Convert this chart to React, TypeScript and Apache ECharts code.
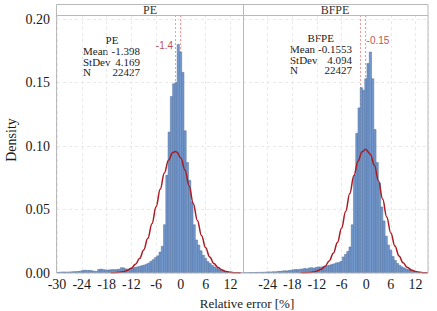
import { useEffect, useRef } from "react";
import * as echarts from "echarts";

// ---- data ----
const BIN_START = -30.05;
const BIN_WIDTH = 0.55;

const peDensity = [
  0.0005, 0.0006, 0.0008, 0.0008, 0.0007, 0.0008, 0.0009, 0.001, 0.0011, 0.0012,
  0.0015, 0.002, 0.0022, 0.002, 0.0021, 0.0018, 0.0014, 0.0013, 0.0028, 0.003,
  0.0027, 0.0024, 0.0023, 0.0025, 0.0027, 0.0026, 0.0028, 0.003, 0.0042, 0.004,
  0.0032, 0.0031, 0.0036, 0.0039, 0.0045, 0.0048, 0.0052, 0.0058, 0.0062, 0.007,
  0.0078, 0.0092, 0.0105, 0.0122, 0.0135, 0.0165, 0.021, 0.038, 0.077, 0.111,
  0.139, 0.149, 0.15, 0.18, 0.174, 0.158, 0.112, 0.087, 0.073, 0.056,
  0.038, 0.026, 0.022, 0.0175, 0.014, 0.0115, 0.009, 0.0075, 0.006, 0.0048,
  0.0038, 0.003, 0.0023, 0.0017, 0.0012, 0.0009, 0.0006, 0.0004, 0.0003, 0.0002,
  0.0001, 0.0001,
];

const bfpeDensity = [
  0.0002, 0.0002, 0.0003, 0.0003, 0.0004, 0.0004, 0.0005, 0.0005, 0.0006, 0.0006,
  0.0008, 0.0009, 0.0008, 0.001, 0.0009, 0.0012, 0.0013, 0.0015, 0.0018, 0.0016,
  0.002, 0.0022, 0.0025, 0.0028, 0.0026, 0.003, 0.0032, 0.0036, 0.0033, 0.004,
  0.0042, 0.0038, 0.0044, 0.0048, 0.0046, 0.005, 0.0054, 0.0058, 0.0062, 0.0068,
  0.0072, 0.008, 0.0082, 0.0092, 0.0126, 0.0147, 0.017, 0.0205, 0.038, 0.077,
  0.11, 0.13, 0.146, 0.144, 0.153, 0.165, 0.174, 0.153, 0.113, 0.087,
  0.071, 0.052, 0.041, 0.029, 0.022, 0.018, 0.013, 0.01, 0.0075, 0.006,
  0.0048, 0.004, 0.0032, 0.0026, 0.002, 0.0015, 0.0011, 0.0008, 0.0005, 0.0003,
  0.0002, 0.0001,
];

const peCurveX = [-17, -16, -15, -14, -13, -12, -11, -10, -9, -8, -7, -6, -5, -4, -3, -2, -1.4, -1, 0, 1, 2, 3, 4, 5, 6, 7, 8, 9, 10, 11, 12, 13, 14, 14.5];
const peCurveY = [0.0001, 0.0002, 0.0005, 0.001, 0.002, 0.0038, 0.0068, 0.0114, 0.0182, 0.0273, 0.0388, 0.0521, 0.0659, 0.0788, 0.0889, 0.0947, 0.0957, 0.0953, 0.0905, 0.0811, 0.0686, 0.0548, 0.0414, 0.0295, 0.0198, 0.0126, 0.0075, 0.0043, 0.0023, 0.0011, 0.0005, 0.0002, 0.0001, 0.0001];

const bfpeCurveX = [-16, -15, -14, -13, -12, -11, -10, -9, -8, -7, -6, -5, -4, -3, -2, -1, -0.15, 1, 2, 3, 4, 5, 6, 7, 8, 9, 10, 11, 12, 13, 14, 15];
const bfpeCurveY = [0.0001, 0.0001, 0.0003, 0.0007, 0.0015, 0.0029, 0.0054, 0.0095, 0.0156, 0.0241, 0.0352, 0.0484, 0.0627, 0.0766, 0.0881, 0.0954, 0.0974, 0.0936, 0.0848, 0.0724, 0.0582, 0.0441, 0.0315, 0.0212, 0.0134, 0.008, 0.0045, 0.0024, 0.0012, 0.0006, 0.0002, 0.0001];

const panelNames = ["PE", "BFPE"];
const statLabels = ["Mean", "StDev", "N"];
const peStats = ["-1.398", "4.169", "22427"];
const bfpeStats = ["-0.1553", "4.094", "22427"];
const refLines = [-1.4, -0.15];
const refLabels = ["-1.4", "-0.15"];
const refLabelY = [0.1795, 0.1834];
const xTickMin = -30;
const xTickStep = 6;
const yTickStep = 0.05;
const xLabel = "Relative error [%]";
const yLabel = "Density";

// ---- styles ----
const SERIF = "'Liberation Serif', 'Times New Roman', serif";
const SANS = "'Liberation Sans', Arial, sans-serif";
const BAR_FILL = "#7398cb";
const BAR_STROKE = "#4f6f9e";
const CURVE = "#a81c24";
const REF = "#f07d7d";
const GRIDC = "#e3e3e3";
const BORDER = "#b9b9b9";

export default function App() {
  const ref = useRef<HTMLDivElement>(null);
  useEffect(() => {
    document.body.style.margin = "0";
    const chart = echarts.init(ref.current!, null, { renderer: "svg" });

    const grids = [
      { left: 57, top: 15, width: 186, height: 258 },
      { left: 243, top: 15, width: 185, height: 258 },
    ];

    const histData = (vals: number[]) =>
      vals.map((v, i) => [BIN_START + i * BIN_WIDTH, BIN_START + (i + 1) * BIN_WIDTH, v]);

    const xAxes = [0, 1].map((g) => ({
      type: "value",
      gridIndex: g,
      min: xTickMin,
      max: 15.05,
      interval: xTickStep,
      axisLine: { show: false },
      axisTick: { show: false },
      splitLine: { show: true, lineStyle: { color: GRIDC, type: [3, 3], width: 0.8 } },
      axisLabel: {
        margin: 4,
        fontFamily: SERIF,
        fontSize: 14,
        color: "#1a1a1a",
        formatter: (v: number) => (v > 13 || (g === 1 && v < -29) ? "" : String(v)),
      },
    }));

    const yAxes = [0, 1].map((g) => ({
      type: "value",
      gridIndex: g,
      min: 0,
      max: 0.2032,
      interval: yTickStep,
      axisLine: { show: false },
      axisTick: { show: false },
      splitLine: { show: true, lineStyle: { color: GRIDC, type: [3, 3], width: 0.8 } },
      axisLabel: {
        show: g === 0,
        margin: 7,
        fontFamily: SERIF,
        fontSize: 14,
        color: "#1a1a1a",
        formatter: (v: number) => (v > 0.201 ? "" : v.toFixed(2)),
      },
    }));

    const renderBar = (params: any, api: any) => {
      const x0 = api.value(0);
      const x1 = api.value(1);
      const y = api.value(2);
      const tl = api.coord([x0, y]);
      const br = api.coord([x1, 0]);
      return {
        type: "rect",
        shape: { x: tl[0], y: tl[1], width: br[0] - tl[0], height: br[1] - tl[1] },
        style: { fill: BAR_FILL, stroke: BAR_STROKE, lineWidth: 0.5 },
      };
    };

    const series: any[] = [];
    const hists = [peDensity, bfpeDensity];
    const curves = [
      [peCurveX, peCurveY],
      [bfpeCurveX, bfpeCurveY],
    ];
    [0, 1].forEach((g) => {
      series.push({
        type: "scatter",
        xAxisIndex: g,
        yAxisIndex: g,
        z: 1,
        symbolSize: 0,
        silent: true,
        data: [[refLines[g], refLabelY[g]]],
        label: {
          show: true,
          position: g === 0 ? "left" : "right",
          distance: g === 0 ? 2 : 1,
          formatter: refLabels[g],
          color: CURVE,
          fontFamily: SANS,
          fontSize: 10,
        },
        markLine: {
          silent: true,
          z: 1,
          symbol: "none",
          label: { show: false },
          lineStyle: { color: REF, type: [2, 2], width: 0.8 },
          data: refLines.map((v) => ({ xAxis: v })),
        },
      });
      series.push({
        type: "custom",
        xAxisIndex: g,
        yAxisIndex: g,
        z: 2,
        clip: true,
        renderItem: renderBar,
        encode: { x: [0, 1], y: 2 },
        data: histData(hists[g]),
      });
      series.push({
        type: "line",
        xAxisIndex: g,
        yAxisIndex: g,
        z: 3,
        smooth: 0.4,
        smoothMonotone: "x",
        showSymbol: false,
        symbol: "none",
        lineStyle: { color: CURVE, width: 1.5 },
        data: curves[g][0].map((x, i) => [x, curves[g][1][i]]),
      });
    });

    const statBlock = (
      cx: number,
      top: number,
      labelX: number,
      valueX: number,
      name: string,
      vals: string[]
    ) => {
      const els: any[] = [
        {
          type: "text",
          x: cx,
          y: top,
          style: { text: name, align: "center", verticalAlign: "middle", font: `11px ${SERIF}`, fill: "#222" },
        },
      ];
      statLabels.forEach((l, i) => {
        const y = top + 11 + i * 10.6;
        els.push({
          type: "text",
          x: labelX,
          y,
          style: { text: l, align: "left", verticalAlign: "middle", font: `11px ${SERIF}`, fill: "#222" },
        });
        els.push({
          type: "text",
          x: valueX,
          y,
          style: { text: vals[i], align: "right", verticalAlign: "middle", font: `11px ${SERIF}`, fill: "#222" },
        });
      });
      return els;
    };

    const graphic: any[] = [
      // strips
      { type: "rect", shape: { x: 56.5, y: 4.5, width: 371.5, height: 268.5 }, style: { fill: "none", stroke: BORDER, lineWidth: 1 }, z: 10 },
      { type: "line", shape: { x1: 243.5, y1: 4.5, x2: 243.5, y2: 273 }, style: { stroke: BORDER, lineWidth: 1 }, z: 10 },
      { type: "line", shape: { x1: 56.5, y1: 15.5, x2: 428, y2: 15.5 }, style: { stroke: BORDER, lineWidth: 1 }, z: 10 },
      { type: "text", x: 150, y: 10, style: { text: panelNames[0], align: "center", verticalAlign: "middle", font: `12px ${SERIF}`, fill: "#333" }, z: 10 },
      { type: "text", x: 335, y: 10, style: { text: panelNames[1], align: "center", verticalAlign: "middle", font: `12px ${SERIF}`, fill: "#333" }, z: 10 },
      ...statBlock(112, 40, 83, 140, panelNames[0], peStats),
      ...statBlock(320.7, 38, 290, 352, panelNames[1], bfpeStats),
      {
        type: "text",
        x: 11,
        y: 140,
        rotation: Math.PI / 2,
        style: { text: yLabel, align: "center", verticalAlign: "middle", font: `14px ${SERIF}`, fill: "#1a1a1a" },
      },
      {
        type: "text",
        x: 247,
        y: 303,
        style: { text: xLabel, align: "center", verticalAlign: "middle", font: `13px ${SERIF}`, fill: "#1a1a1a" },
      },
    ];

    chart.setOption({
      animation: false,
      backgroundColor: "#ffffff",
      grid: grids,
      xAxis: xAxes,
      yAxis: yAxes,
      series,
      graphic,
    });
    return () => chart.dispose();
  }, []);
  return <div ref={ref} style={{ width: 437, height: 311 }} />;
}
